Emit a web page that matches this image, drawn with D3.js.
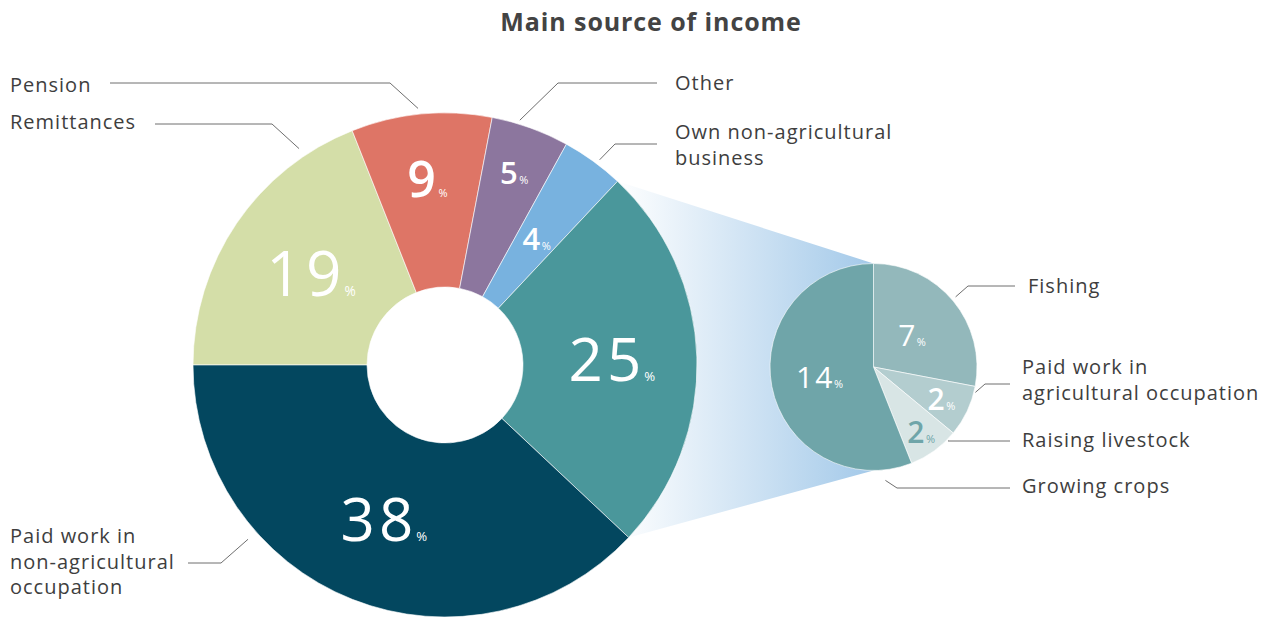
<!DOCTYPE html>
<html>
<head>
<meta charset="utf-8">
<script src="https://cdn.jsdelivr.net/npm/d3@7"></script>
<style>
  body { margin: 0; background: #fff; }
  svg { display: block; font-family: "Open Sans", sans-serif; }
</style>
</head>
<body>
<div id="chart"></div>
<script>
"use strict";

// donnees principales
var categories = ["Remittances", "Pension", "Other", "Own non-agricultural business", "Agriculture", "Paid work in non-agricultural occupation"];
var valeurs = [19, 9, 5, 4, 25, 38];
// detail de l'agriculture
var sousCategories = ["Fishing", "Paid work in agricultural occupation", "Raising livestock", "Growing crops"];
var sousValeurs = [7, 2, 2, 14];

var larg = 1270, haut = 619;
var cx = 445, cy = 365, rExt = 252, rInt = 78; // grand camembert
var sx = 873.5, sy = 367, sr = 103.5; // petit camembert

var couleurs = ["#d4dea8", "#de7566", "#8c769e", "#78b2df", "#4a979b", "#03475f"];
var sousCouleurs = ["#93b8bb", "#b3cdcf", "#d8e5e5", "#6fa5a9"];
var couleurTexte = "#3e3e3e", couleurTrait = "#6e6e6e";

// mise en page des nombres (rayon, taille, graisse)
var posNombre = [
  {r: 162, taille: 62, poids: 400}, {r: 187, taille: 50, poids: 600}, {r: 204, taille: 31, poids: 600},
  {r: 156, taille: 31, poids: 600}, {r: 167, taille: 60, poids: 400}, {r: 166, taille: 60, poids: 400}
];
var posSousNombre = [
  {r: 50, taille: 30, poids: 400}, {r: 75, taille: 30, poids: 600},
  {r: 81, taille: 30, poids: 600}, {r: 55, taille: 30, poids: 400}
];

// traits de rappel : angle d'ancrage, coude, fin, position du texte
var legende = [
  {angle: 326, rr: 261, coude: [272, 124], fin: 155, tx: 10, ty: 129, lignes: ["Remittances"]},
  {angle: -6, rr: 258, coude: [390, 83], fin: 110, tx: 10, ty: 92, lignes: ["Pension"]},
  {angle: 17, rr: 256, coude: [558, 83], fin: 657, tx: 675, ty: 90, lignes: ["Other"]},
  {angle: 37, rr: 257, coude: [615, 144], fin: 657, tx: 675, ty: 139, lignes: ["Own non-agricultural", "business"]},
  null,
  {angle: 228.5, rr: 263, coude: [221, 563], fin: 188, tx: 10, ty: 543, lignes: ["Paid work in", "non-agricultural", "occupation"]}
];
var sousLegende = [
  {angle: 49.5, rr: 108, coude: [968, 286], fin: 1015, tx: 1028, ty: 293, lignes: ["Fishing"]},
  {angle: 104, rr: 105, coude: [985, 384], fin: 1010, tx: 1022, ty: 374, lignes: ["Paid work in", "agricultural occupation"]},
  {angle: 134.6, rr: 105, coude: [948, 441], fin: 1010, tx: 1022, ty: 447, lignes: ["Raising livestock"]},
  {angle: 174, rr: 114, coude: [897, 488], fin: 1010, tx: 1022, ty: 493, lignes: ["Growing crops"]}
];

var svg = d3.select("#chart").append("svg")
  .attr("width", larg).attr("height", haut);

// titre
svg.append("text")
  .attr("x", 651).attr("y", 31)
  .attr("text-anchor", "middle")
  .attr("font-size", "25px").attr("font-weight", 700)
  .attr("letter-spacing", "0.9px")
  .attr("fill", "#434343")
  .text("Main source of income");

var pie = d3.pie().sort(null).startAngle(-Math.PI / 2).endAngle(3 * Math.PI / 2);
var arcs = pie(valeurs);
var sousPie = d3.pie().sort(null);
var sousArcs = sousPie(sousValeurs);

function pt(x0, y0, angleRad, r) {
  return [x0 + r * Math.sin(angleRad), y0 - r * Math.cos(angleRad)];
}

// degrade entre les deux camemberts
var defs = svg.append("defs");
var grad = defs.append("linearGradient").attr("id", "zoomGrad")
  .attr("gradientUnits", "userSpaceOnUse")
  .attr("x1", 615).attr("y1", 0).attr("x2", sx).attr("y2", 0);
grad.append("stop").attr("offset", "0%").attr("stop-color", "#ffffff");
grad.append("stop").attr("offset", "100%").attr("stop-color", "#a3c9e9");

var agri = arcs[4];
var p1 = pt(cx, cy, agri.startAngle, rExt);
var p2 = pt(cx, cy, agri.endAngle, rExt);
svg.append("path")
  .attr("d", d3.line()([p1, [sx, sy - sr], [sx, sy + sr], p2]))
  .attr("fill", "url(#zoomGrad)");

// grand camembert
var arc = d3.arc().innerRadius(rInt).outerRadius(rExt);
var gMain = svg.append("g").attr("transform", "translate(" + cx + "," + cy + ")");
gMain.selectAll("path.part")
  .data(arcs)
  .enter()
  .append("path")
    .attr("class", "part")
    .attr("d", arc)
    .attr("fill", function(d, i) { return couleurs[i]; })
    .attr("stroke", "#fff")
    .attr("stroke-width", 0.6);

// petit camembert
var sousArc = d3.arc().innerRadius(0).outerRadius(sr);
var gSous = svg.append("g").attr("transform", "translate(" + sx + "," + sy + ")");
gSous.selectAll("path.sous")
  .data(sousArcs)
  .enter()
  .append("path")
    .attr("class", "sous")
    .attr("d", sousArc)
    .attr("fill", function(d, i) { return sousCouleurs[i]; })
    .attr("stroke", "#fff")
    .attr("stroke-width", 0.6);

// nombres avec petit %
function nombres(g, data, pos, couleurFn) {
  var t = g.selectAll("text.nb")
    .data(data)
    .enter()
    .append("text")
      .attr("class", "nb")
      .attr("text-anchor", "middle")
      .attr("fill", couleurFn)
      .attr("transform", function(d, i) {
        var m = (d.startAngle + d.endAngle) / 2;
        var p = pt(0, 0, m, pos[i].r);
        return "translate(" + p[0] + "," + (p[1] + pos[i].taille * 0.36) + ")";
      });
  t.append("tspan")
    .attr("font-size", function(d, i) { return pos[i].taille + "px"; })
    .attr("letter-spacing", function(d, i) { return (pos[i].taille * 0.07) + "px"; })
    .attr("font-weight", function(d, i) { return pos[i].poids; })
    .text(function(d) { return d.data; });
  t.append("tspan")
    .attr("font-size", function(d, i) { return Math.max(11, pos[i].taille * 0.22) + "px"; })
    .attr("letter-spacing", "0px")
    .attr("dx", function(d, i) { return -pos[i].taille * 0.02; })
    .text("%");
}
nombres(gMain, arcs, posNombre, "#fff");
nombres(gSous, sousArcs, posSousNombre, function(d, i) { return i == 2 ? "#6fa5a9" : "#fff"; });

// traits et etiquettes
function etiquettes(data, x0, y0) {
  data.forEach(function(l) {
    if (!l) return;
    var a = pt(x0, y0, l.angle * Math.PI / 180, l.rr);
    svg.append("path")
      .attr("d", d3.line()([a, l.coude, [l.fin, l.coude[1]]]))
      .attr("fill", "none")
      .attr("stroke", couleurTrait)
      .attr("stroke-width", 1);
    var t = svg.append("text")
      .attr("x", l.tx).attr("y", l.ty)
      .attr("font-size", "20px")
      .attr("font-weight", 500)
      .attr("letter-spacing", "1px")
      .attr("fill", couleurTexte);
    l.lignes.forEach(function(s, k) {
      t.append("tspan").attr("x", l.tx).attr("dy", k == 0 ? 0 : 25.5).text(s);
    });
  });
}
etiquettes(legende, cx, cy);
etiquettes(sousLegende, sx, sy);
</script>
</body>
</html>
